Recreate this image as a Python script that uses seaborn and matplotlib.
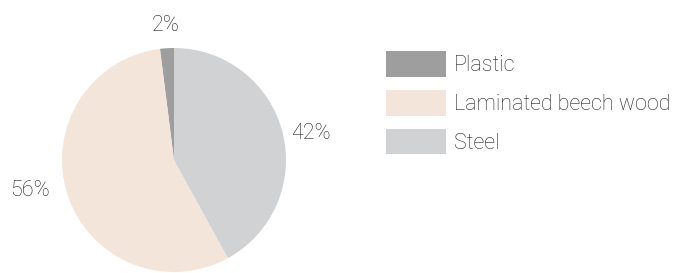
import numpy as np
import matplotlib
matplotlib.use("Agg")
import matplotlib.pyplot as plt
import seaborn as sns
from matplotlib.patches import Patch

sns.set_theme(style="white")
plt.rcParams['font.family'] = ['Roboto', 'DejaVu Sans']

categories = ["Plastic", "Laminated beech wood", "Steel"]
values = [2, 56, 42]
colors = ["#9d9e9d", "#f3e5d9", "#d1d2d4"]

fig = plt.figure(figsize=(6.79, 2.73), dpi=100)
ax = fig.add_axes([0.0913, 0.0037, 0.3299, 0.8205])
wedges, _ = ax.pie(values, colors=colors, startangle=90, counterclock=True,
                   radius=1.0, wedgeprops=dict(linewidth=0))
ax.set_xlim(-1, 1)
ax.set_ylim(-1, 1)
ax.set_aspect('equal')
ax.axis('off')

label_dist = [1.20, 1.31, 1.25]
angle_shift = [0, -6, -3.5]
for w, v, d, s in zip(wedges, values, label_dist, angle_shift):
    th = np.deg2rad((w.theta1 + w.theta2) / 2 + s)
    ax.text(d * np.cos(th), d * np.sin(th), f"{v}%", ha='center', va='center',
            fontsize=15.5, fontweight='light', color='#222222', clip_on=False)

handles = [Patch(facecolor=c, edgecolor='none') for c in colors]
leg = fig.legend(handles, categories, loc='upper left', bbox_to_anchor=(0.5685, 0.813),
                 frameon=False, fontsize=15.5, handlelength=2.8, handleheight=1.45,
                 labelspacing=0.62, handletextpad=0.36, borderaxespad=0, borderpad=0)
for t in leg.get_texts():
    t.set_color('#222222')
    t.set_fontweight('light')

fig.savefig("out.png", dpi=100)
